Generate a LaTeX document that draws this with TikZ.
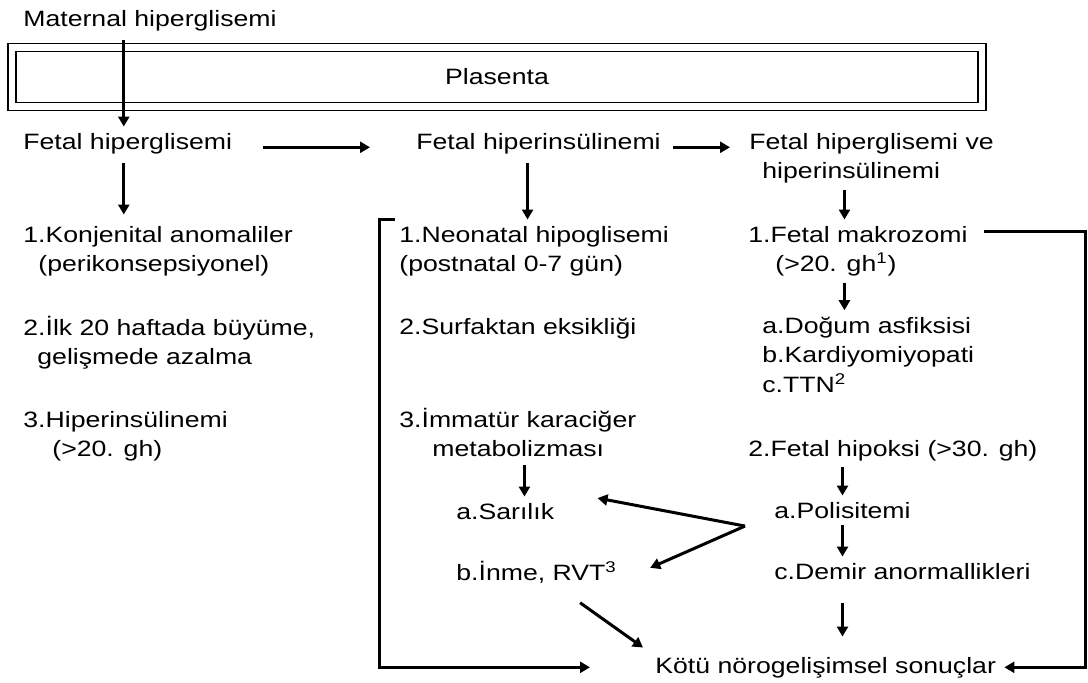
\documentclass[tikz,border=0pt]{standalone}
\usepackage{fontspec}
\setmainfont[FakeStretch=1.2]{Liberation Sans}
\usetikzlibrary{arrows.meta}

\begin{document}
\begin{tikzpicture}[
	x=0.5pt, y=-0.5pt,
	font=\fontsize{11.1}{14.75}\selectfont,
	item/.style={anchor=base west, align=left, inner xsep=0pt, inner ysep=3pt},
	placentabox/.style={draw, double, line width=0.7pt, double distance=3.3pt, minimum width=485pt, minimum height=29.5pt},
	arrow/.style={-{Triangle[length=5pt, width=5.5pt]}, line width=1.5pt}
]
\useasboundingbox (0,0) rectangle (1088,682);

% Maternal side, placenta and the three fetal states (multi-line nodes sit on their last line).
\node[item] (maternal) at (23,26) {Maternal hiperglisemi};
\node[placentabox] (plasenta) at (497,77) {Plasenta};
\node[item] (fglu) at (23,149) {Fetal hiperglisemi};
\node[item] (fins) at (416,149) {Fetal hiperinsülinemi};
\node[item] (fhh) at (749,178.5) {Fetal hiperglisemi ve\\\hspace*{6.5pt}hiperinsülinemi};

% Left column.
\node[item] (konj) at (23,271.5) {1.Konjenital anomaliler\\\hspace*{7.5pt}(perikonsepsiyonel)};
\node[item] (ilk) at (23,364.5) {2.İlk 20 haftada büyüme,\\\hspace*{7pt}gelişmede azalma};
\node[item] (hiper) at (23,456.5) {3.Hiperinsülinemi\\\hspace*{14.5pt}(>20. gh)};

% Middle column.
\node[item] (neo) at (399,271.5) {1.Neonatal hipoglisemi\\(postnatal 0-7 gün)};
\node[item] (surf) at (399,334) {2.Surfaktan eksikliği};
\node[item] (imm) at (399,456.5) {3.İmmatür karaciğer\\\hspace*{16.5pt}metabolizması};
\node[item] (sarilik) at (456,519) {a.Sarılık};
\node[item] (rvt) at (456,580) {b.İnme, RVT\textsuperscript{3}};

% Right column.
\node[item] (makro) at (748,271.5) {1.Fetal makrozomi\\\hspace*{13.5pt}(>20. gh\textsuperscript{1})};
\node[item] (komp) at (762,392) {a.Doğum asfiksisi\\b.Kardiyomiyopati\\c.TTN\textsuperscript{2}};
\node[item] (hipoksi) at (748,456) {2.Fetal hipoksi (>30. gh)};
\node[item] (poli) at (774,518) {a.Polisitemi};
\node[item] (demir) at (774,579) {c.Demir anormallikleri};

\node[item] (kotu) at (655,673) {Kötü nörogelişimsel sonuçlar};

% Arrows.
\draw[arrow, shorten <=1.5pt] ([xshift=-2pt]fglu.north |- maternal.south) -- ([xshift=-2pt]fglu.north);
\draw[arrow, shorten <=1.5pt, shorten >=2.5pt] ([xshift=-2pt]fglu.south) -- ([xshift=-2pt]fglu.south |- konj.north);
\draw[arrow] ([shift={(15pt,-2pt)}]fglu.east) -- ([shift={(-23pt,-2pt)}]fins.west);
\draw[arrow] ([shift={(6pt,-2pt)}]fins.east) -- ([shift={(-9.5pt,-2pt)}]fins.east -| fhh.west);
\draw[arrow, shorten <=1.5pt] ([xshift=-5.5pt]fins.south) -- ([xshift=-5.5pt]fins.south |- neo.north);
\draw[arrow] ([xshift=-6.75pt]makro.north |- fhh.south) -- ([xshift=-6.75pt]makro.north);
\draw[arrow] ([xshift=-6.75pt]makro.south) -- ([xshift=-6.75pt]makro.south |- komp.north);
\draw[arrow, shorten <=1pt] ([xshift=3.3pt]imm.south) -- ([xshift=3.3pt]imm.south |- sarilik.north);
\draw[arrow] (poli.north |- hipoksi.south) -- (poli.north);
\draw[arrow] (poli.south) -- (poli.south |- demir.north);
\draw[arrow, shorten <=8.5pt, shorten >=7pt] (poli.south |- demir.south) -- (poli.south |- kotu.north);

% Polycythaemia fork.
\coordinate (fork) at ([shift={(-14.5pt,-8pt)}]poli.west);
\draw[arrow] (fork) -- ([shift={(21.5pt,6.5pt)}]sarilik.east);
\draw[arrow] (fork) -- ([shift={(16.5pt,2pt)}]rvt.east);
\draw[arrow] ([shift={(21.75pt,-6.75pt)}]rvt.south) -- ([shift={(-6pt,1.5pt)}]kotu.north west);

% Side brackets to the outcome.
\draw[arrow] ([xshift=-2pt]neo.north west) -- ++(-8pt,0) |- ([xshift=-32.5pt]kotu.west);
\draw[arrow] ([shift={(8pt,-6pt)}]makro.north east) -- ++(51pt,0) |- ([xshift=4pt]kotu.east);

\end{tikzpicture}
\end{document}
